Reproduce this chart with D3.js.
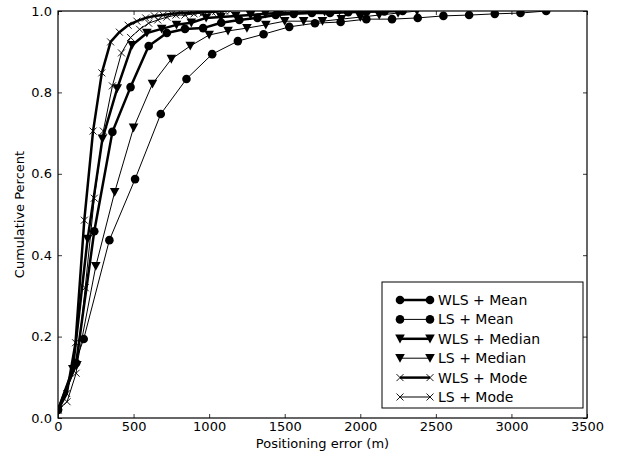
<!DOCTYPE html>
<html>
<head>
<meta charset="utf-8">
<script src="https://cdn.jsdelivr.net/npm/d3@7"></script>
<style>
  html, body { margin: 0; padding: 0; background: #fff; }
  svg { display: block; font-family: 'DejaVu Sans', sans-serif; }
</style>
</head>
<body>
<svg id="chart" width="621" height="459"></svg>
<script>
'use strict';

/* ── data ──────────────────────────────────────────────────── */
const xTicks = [0, 500, 1000, 1500, 2000, 2500, 3000, 3500];
const yTicks = [0, 0.2, 0.4, 0.6, 0.8, 1.0];

const wlsMeanX = [0, 120, 240, 360, 480, 600, 720, 840, 960, 1080, 1200, 1320, 1440, 1560, 1680, 1800, 1920, 2040, 2160, 2280];
const wlsMeanY = [0.02, 0.135, 0.459, 0.703, 0.813, 0.914, 0.946, 0.956, 0.958, 0.971, 0.978, 0.983, 0.990, 0.993, 0.995, 0.995, 0.997, 0.998, 0.999, 1.0];

const lsMeanX = [0, 170, 340, 510, 680, 850, 1020, 1190, 1360, 1530, 1700, 1870, 2040, 2210, 2380, 2550, 2720, 2890, 3060, 3230];
const lsMeanY = [0.02, 0.194, 0.437, 0.587, 0.747, 0.833, 0.894, 0.926, 0.943, 0.961, 0.970, 0.973, 0.980, 0.980, 0.983, 0.988, 0.990, 0.993, 0.995, 1.0];

const wlsMedianX = [0, 98, 196, 294, 392, 490, 588, 686, 784, 882, 980, 1078, 1176, 1274, 1372, 1470, 1568, 1666, 1764, 1862];
const wlsMedianY = [0.02, 0.12, 0.44, 0.686, 0.81, 0.916, 0.946, 0.956, 0.966, 0.971, 0.983, 0.985, 0.988, 0.990, 0.993, 0.995, 0.996, 0.997, 0.998, 1.0];

const lsMedianX = [0, 125, 250, 375, 500, 625, 750, 875, 1000, 1125, 1250, 1375, 1500, 1625, 1750, 1875, 2000, 2125, 2250, 2375];
const lsMedianY = [0.02, 0.13, 0.373, 0.555, 0.713, 0.821, 0.882, 0.914, 0.941, 0.951, 0.958, 0.966, 0.975, 0.975, 0.975, 0.980, 0.985, 0.990, 0.995, 1.0];

const wlsModeX = [0, 58, 116, 174, 232, 290, 348, 406, 464, 522, 580, 638, 696, 754, 812, 870, 928, 986, 1044, 1102];
const wlsModeY = [0.02, 0.06, 0.185, 0.486, 0.705, 0.848, 0.924, 0.948, 0.965, 0.975, 0.983, 0.988, 0.990, 0.993, 0.995, 0.996, 0.997, 0.998, 0.999, 1.0];

const lsModeX = [0, 60, 120, 180, 240, 300, 360, 420, 480, 540, 600, 660, 720, 780, 840, 900, 960, 1020, 1080, 1140];
const lsModeY = [0.02, 0.04, 0.11, 0.32, 0.54, 0.705, 0.816, 0.897, 0.935, 0.955, 0.970, 0.978, 0.985, 0.990, 0.990, 0.993, 0.995, 0.997, 0.998, 1.0];

const SERIES = [
  { name: 'WLS + Mean',   xs: wlsMeanX,   ys: wlsMeanY,   marker: 'circle',   width: 2.5 },
  { name: 'LS + Mean',    xs: lsMeanX,    ys: lsMeanY,    marker: 'circle',   width: 1 },
  { name: 'WLS + Median', xs: wlsMedianX, ys: wlsMedianY, marker: 'triangle', width: 2.5 },
  { name: 'LS + Median',  xs: lsMedianX,  ys: lsMedianY,  marker: 'triangle', width: 1 },
  { name: 'WLS + Mode',   xs: wlsModeX,   ys: wlsModeY,   marker: 'cross',    width: 2.5 },
  { name: 'LS + Mode',    xs: lsModeX,    ys: lsModeY,    marker: 'cross',    width: 1 },
];

/* ── layout ────────────────────────────────────────────────── */
const W = 621, H = 459;
const M = { left: 58, right: 34, top: 11, bottom: 41 };
const iw = W - M.left - M.right;
const ih = H - M.top - M.bottom;

const svg = d3.select('#chart');
const x = d3.scaleLinear().domain([0, 3500]).range([0, iw]);
const y = d3.scaleLinear().domain([0, 1]).range([ih, 0]);

svg.append('defs').append('clipPath').attr('id', 'plot-clip')
  .append('rect').attr('width', iw).attr('height', ih);

const g = svg.append('g').attr('transform', `translate(${M.left},${M.top})`);

// draw a marker of the given kind centred on (0,0) inside sel
function drawMarker(sel, kind) {
  if (kind === 'circle') {
    sel.append('circle').attr('r', 4.3).attr('fill', '#000');
  } else if (kind === 'triangle') {
    sel.append('path').attr('d', 'M-4.8,-4.2L4.8,-4.2L0,4.6Z').attr('fill', '#000');
  } else {
    sel.append('path').attr('d', 'M-3.5,-3.5L3.5,3.5M-3.5,3.5L3.5,-3.5')
      .attr('stroke', '#000').attr('stroke-width', 0.9).attr('fill', 'none');
  }
}

/* ── series ────────────────────────────────────────────────── */
const plot = g.append('g').attr('clip-path', 'url(#plot-clip)');
const line = d3.line().x(d => x(d[0])).y(d => y(d[1]));

SERIES.forEach(s => {
  const pts = s.xs.map((v, i) => [v, s.ys[i]]);
  plot.append('path').datum(pts)
    .attr('d', line)
    .attr('fill', 'none')
    .attr('stroke', '#000')
    .attr('stroke-width', s.width)
    .attr('stroke-linejoin', 'round');
  plot.append('g').selectAll('g').data(pts).join('g')
    .attr('transform', d => `translate(${x(d[0])},${y(d[1])})`)
    .each(function() { drawMarker(d3.select(this), s.marker); });
});

/* ── axes: matplotlib style, inward ticks on all four sides ── */
const axFont = 13;
const xb = g.append('g').attr('transform', `translate(0,${ih})`)
  .call(d3.axisBottom(x).tickValues(xTicks).tickSize(-4).tickPadding(4).tickFormat(d3.format('d')));
const xt = g.append('g')
  .call(d3.axisTop(x).tickValues(xTicks).tickSize(-4).tickFormat(''));
const yl = g.append('g')
  .call(d3.axisLeft(y).tickValues(yTicks).tickSize(-4).tickPadding(6).tickFormat(d3.format('.1f')));
const yr = g.append('g').attr('transform', `translate(${iw},0)`)
  .call(d3.axisRight(y).tickValues(yTicks).tickSize(-4).tickFormat(''));

[xb, xt, yl, yr].forEach(a => {
  a.select('.domain').remove();
  a.selectAll('line').attr('stroke', '#000').attr('stroke-width', 0.8);
  a.selectAll('text').attr('font-size', axFont).attr('fill', '#000')
    .attr('font-family', "'DejaVu Sans', sans-serif");
});

// frame
g.append('rect').attr('width', iw).attr('height', ih)
  .attr('fill', 'none').attr('stroke', '#000').attr('stroke-width', 1.2);

// labels
svg.append('text')
  .attr('x', M.left + iw / 2).attr('y', 448)
  .attr('text-anchor', 'middle').attr('font-size', 13)
  .text('Positioning error (m)');
svg.append('text')
  .attr('transform', `translate(24,${M.top + ih / 2}) rotate(-90)`)
  .attr('text-anchor', 'middle').attr('font-size', 13)
  .text('Cumulative Percent');

/* ── legend ────────────────────────────────────────────────── */
const lg = svg.append('g').attr('transform', 'translate(382,282)');
lg.append('rect').attr('width', 201).attr('height', 126)
  .attr('fill', '#fff').attr('stroke', '#000').attr('stroke-width', 1);

SERIES.forEach((s, i) => {
  const row = lg.append('g').attr('transform', `translate(0,${18 + i * 19.4})`);
  row.append('line').attr('x1', 18).attr('x2', 48)
    .attr('stroke', '#000').attr('stroke-width', s.width);
  [18, 48].forEach(px => drawMarker(row.append('g').attr('transform', `translate(${px},0)`), s.marker));
  row.append('text').attr('x', 56).attr('dy', '0.35em')
    .attr('font-size', 14).text(s.name);
});
</script>
</body>
</html>
